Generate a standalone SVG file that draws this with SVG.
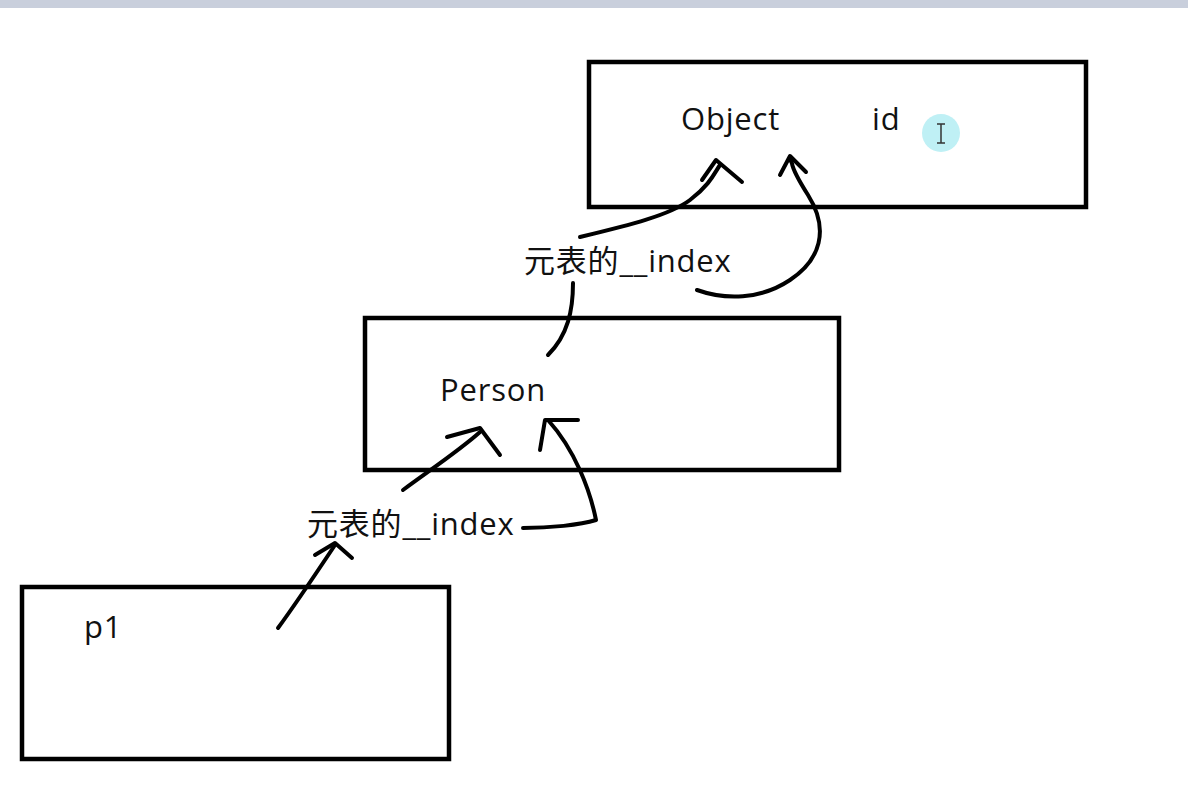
<svg xmlns="http://www.w3.org/2000/svg" width="1188" height="796" viewBox="0 0 1188 796">
<style>
.box{fill:none;stroke:#000;stroke-width:4.5}
.ink{fill:none;stroke:#000;stroke-width:4;stroke-linecap:round;stroke-linejoin:round}
text{font-family:"Open Sans","Noto Sans CJK SC",sans-serif;font-size:31px;letter-spacing:0.8px;fill:#111}
</style>
<rect x="0" y="0" width="1188" height="796" fill="#fff"/>
<rect x="0" y="0" width="1188" height="8" fill="#c9cfdc"/>
<g id="object"><rect class="box" x="589" y="62" width="497" height="145"/><text x="681" y="130">Object</text><text x="872" y="130">id</text></g>
<circle cx="941" cy="133" r="19" fill="#bff0f5"/>
<path d="M937 124h8M941 124v19M937 143h8" stroke="#333" stroke-width="1.5" fill="none"/>
<g id="person"><rect class="box" x="365" y="318" width="474" height="152"/><text x="440" y="401">Person</text></g>
<g id="p1"><rect class="box" x="22" y="587" width="427" height="172"/><text x="84" y="638">p1</text></g>
<g id="labels"><text x="524" y="272">元表的__index</text><text x="307" y="535">元表的__index</text></g>
<g id="connectors">
<path class="ink" d="M580 237C630 225 670 215 690 200S715 172 720 165"/>
<path class="ink" d="M702 180L716 160L742 182"/>
<path class="ink" d="M697 290C725 300 760 300 790 280S830 230 808 195S795 165 790 160"/>
<path class="ink" d="M780 175L790 156L806 172"/>
<path class="ink" d="M573 283C573 310 568 335 548 355"/>
<path class="ink" d="M403 490C430 470 460 450 480 432"/>
<path class="ink" d="M447 437L480 428L500 455"/>
<path class="ink" d="M523 528C550 528 580 525 596 520C590 490 575 450 548 420"/>
<path class="ink" d="M540 450L545 420L578 420"/>
<path class="ink" d="M278 628C295 605 315 575 335 545"/>
<path class="ink" d="M315 555L335 543L352 558"/>
</g>
</svg>
